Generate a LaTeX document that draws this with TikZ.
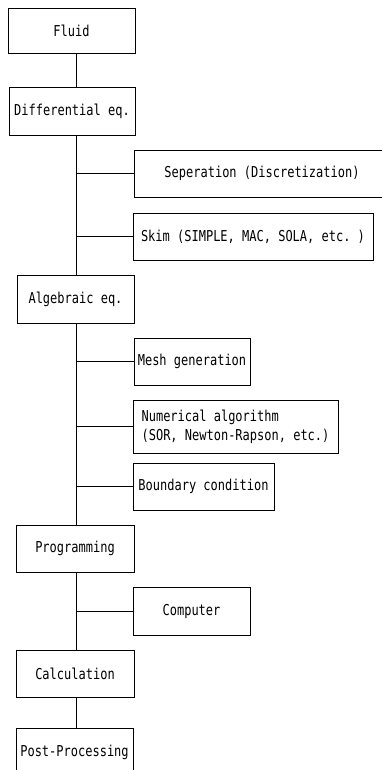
\documentclass[tikz,border=0pt]{standalone}
\usepackage{fontspec}
\setmainfont{DejaVu Sans Mono}[FakeStretch=0.8]
\usetikzlibrary{positioning}

\begin{document}
\begin{tikzpicture}[x=1pt,y=-1pt]
  
  \tikzset{main node/.style={rectangle, draw, line width=0.7pt,
  		text centered, minimum height=47pt, inner sep=2pt,
  		font=\fontsize{15}{19}\selectfont}, }
  \tikzset{linea/.style={line width=0.7pt}, }

  \useasboundingbox (0,0) rectangle (381,770);
  \coordinate (s) at (76,0);

    \node[main node, minimum width=127pt, minimum height=45pt] (1) at (71.5,30.5) {Fluid};
    \node[main node, minimum width=126pt, minimum height=48pt] (2) at (72,111) {Differential eq.};
    \node[main node, minimum width=256pt] (3) at (262,173.5) {Seperation (Discretization)};
    \node[main node, minimum width=240pt] (4) at (253,236.5) {Skim (SIMPLE, MAC, SOLA, etc.\ )};
    \node[main node, minimum width=117pt, minimum height=48pt] (5) at (75.5,299) {Algebraic eq.};
    \node[main node, minimum width=116pt] (6) at (192,361.5) {Mesh generation};
    \node[main node, minimum width=205pt, minimum height=53pt, align=left] (7) at (235.5,426.5) {Numerical algorithm\\(SOR, Newton-Rapson, etc.)};
    \node[main node, minimum width=141pt] (8) at (203.5,486.5) {Boundary condition};
    \node[main node, minimum width=118pt] (9) at (75,548.5) {Programming};
    \node[main node, minimum width=117pt, minimum height=48pt] (10) at (191.5,611) {Computer};
    \node[main node, minimum width=118pt] (11) at (75,673.5) {Calculation};
    \node[main node, minimum width=117pt, minimum height=48pt] (12) at (74.5,752) {Post-Processing};
%
\foreach \x /\y in {1/2,2/5,5/9,9/11,11/12}
  \draw[linea] (\x.south -| s) -- (\y.north -| s);
\foreach \x in {3,4,6,7,8,10}
  \draw[linea] (\x.west -| s) -- (\x.west);
%  
\end{tikzpicture}
\end{document}
